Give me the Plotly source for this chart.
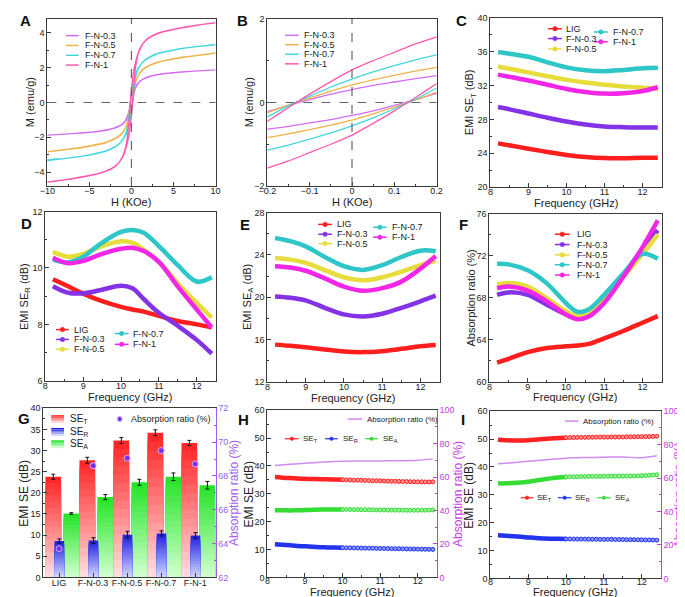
import plotly.graph_objects as go

W, H = 685, 597
FONT = "Arial, 'Liberation Sans', sans-serif"

# ---------------- DATA ----------------
# A / B : hysteresis loops (descending branch)
H_field = [-10, -8, -6, -4, -3, -2, -1.5, -1, -0.7, -0.5, -0.3, -0.2, -0.15, -0.1, -0.05, 0,
           0.05, 0.1, 0.15, 0.2, 0.3, 0.5, 0.7, 1, 1.5, 2, 3, 4, 6, 8, 10]
M_up_FN03 = [-1.87, -1.82, -1.76, -1.67, -1.6, -1.48, -1.38, -1.21, -1.02, -0.82, -0.5, -0.22, -0.07, 0.07, 0.2, 0.31,
             0.41, 0.49, 0.57, 0.64, 0.76, 0.93, 1.06, 1.23, 1.36, 1.46, 1.58, 1.66, 1.75, 1.82, 1.87]
M_up_FN05 = [-2.83, -2.72, -2.6, -2.42, -2.3, -2.1, -1.95, -1.72, -1.45, -1.15, -0.65, -0.25, -0.06, 0.11, 0.27, 0.42,
             0.54, 0.65, 0.75, 0.84, 1.0, 1.25, 1.45, 1.68, 1.93, 2.08, 2.28, 2.4, 2.58, 2.71, 2.83]
M_up_FN07 = [-3.34, -3.22, -3.1, -2.9, -2.78, -2.55, -2.38, -2.1, -1.8, -1.45, -0.85, -0.34, -0.08, 0.15, 0.37, 0.56,
             0.73, 0.88, 1.02, 1.14, 1.35, 1.65, 1.88, 2.12, 2.4, 2.57, 2.8, 2.92, 3.1, 3.22, 3.31]
M_up_FN1 = [-4.58, -4.45, -4.28, -4.08, -3.92, -3.68, -3.45, -3.05, -2.6, -2.05, -1.1, -0.45, -0.12, 0.2, 0.5, 0.78,
            1.0, 1.2, 1.4, 1.57, 1.9, 2.35, 2.7, 3.1, 3.47, 3.7, 3.95, 4.1, 4.3, 4.45, 4.57]

# C : SE_T
freq_C = [8.2, 8.6, 9.0, 9.5, 10.0, 10.5, 11.0, 11.5, 12.0, 12.4]
SET_LIG = [25.16, 24.85, 24.53, 24.15, 23.8, 23.55, 23.42, 23.4, 23.45, 23.45]
SET_FN03 = [29.46, 29.1, 28.7, 28.2, 27.75, 27.4, 27.17, 27.08, 27.05, 27.05]
SET_FN05 = [34.26, 33.9, 33.56, 33.1, 32.67, 32.35, 32.1, 31.9, 31.74, 31.6]
SET_FN07 = [35.97, 35.7, 35.4, 34.75, 34.15, 33.8, 33.7, 33.85, 34.05, 34.1]
SET_FN1 = [33.29, 32.95, 32.6, 32.1, 31.6, 31.25, 31.05, 31.1, 31.35, 31.8]

# D : SE_R
freq_D = [8.2, 8.6, 9.0, 9.5, 10.0, 10.3, 10.6, 11.0, 11.5, 12.0, 12.4]
SER_LIG = [9.6, 9.35, 9.09, 8.82, 8.62, 8.53, 8.45, 8.3, 8.12, 8.0, 7.89]
SER_FN03 = [9.35, 9.12, 9.1, 9.23, 9.37, 9.28, 8.9, 8.41, 7.95, 7.45, 6.96]
SER_FN05 = [10.57, 10.4, 10.5, 10.78, 10.95, 10.9, 10.65, 10.22, 9.46, 8.76, 8.24]
SER_FN07 = [10.3, 10.2, 10.4, 10.9, 11.28, 11.35, 11.25, 10.78, 10.1, 9.52, 9.67]
SER_FN1 = [10.36, 10.17, 10.25, 10.5, 10.68, 10.72, 10.6, 10.22, 9.35, 8.53, 7.89]

# E : SE_A
freq_E = [8.2, 8.6, 9.0, 9.5, 10.0, 10.5, 11.0, 11.5, 12.0, 12.4]
SEA_LIG = [15.51, 15.4, 15.26, 15.05, 14.86, 14.8, 14.89, 15.11, 15.36, 15.48]
SEA_FN03 = [20.07, 19.95, 19.7, 18.99, 18.37, 18.18, 18.43, 18.99, 19.61, 20.14]
SEA_FN05 = [23.7, 23.55, 23.24, 22.56, 21.88, 21.6, 21.88, 22.4, 23.03, 23.43]
SEA_FN07 = [25.6, 25.3, 24.8, 23.8, 22.93, 22.58, 23.03, 23.8, 24.4, 24.35]
SEA_FN1 = [22.93, 22.8, 22.5, 21.78, 21.0, 20.6, 20.85, 21.47, 22.7, 23.9]

# F : absorption ratio
freq_F = [8.2, 8.5, 9.0, 9.5, 10.0, 10.3, 10.6, 11.0, 11.5, 12.0, 12.4]
AR_LIG = [61.81, 62.18, 62.81, 63.21, 63.37, 63.45, 63.6, 64.12, 64.83, 65.61, 66.24]
AR_FN03 = [68.27, 68.5, 68.27, 67.33, 66.4, 66.08, 66.49, 67.8, 70.13, 72.63, 74.41]
AR_FN05 = [69.26, 69.4, 69.05, 67.95, 66.7, 66.3, 66.7, 68.05, 69.98, 72.16, 74.03]
AR_FN07 = [71.23, 71.17, 70.6, 69.36, 67.49, 66.65, 66.9, 68.27, 70.3, 72.16, 71.7]
AR_FN1 = [68.9, 69.05, 68.67, 67.65, 66.4, 65.95, 66.2, 67.49, 69.98, 72.79, 75.35]

# G : bars
G_cats = ["LIG", "F-N-0.3", "F-N-0.5", "F-N-0.7", "F-N-1"]
G_SET = [23.8, 27.7, 32.4, 34.2, 31.8]
G_SET_err = [0.6, 0.7, 0.7, 0.7, 0.6]
G_SER = [8.6, 8.7, 10.1, 10.4, 9.9]
G_SER_err = [0.5, 0.7, 0.8, 0.6, 0.7]
G_SEA = [15.1, 19.0, 22.5, 23.8, 21.8]
G_SEA_err = [0.2, 0.6, 0.7, 0.9, 0.9]
G_AR = [63.7, 68.6, 69.05, 69.5, 68.7]

# H / I : dense part (8.2-10 GHz) and marker part (10-12.4 GHz)
freq_dense = [8.2, 8.4, 8.6, 8.8, 9.0, 9.2, 9.4, 9.6, 9.8, 10.0]
freq_mark = [10.0, 10.1, 10.2, 10.3, 10.4, 10.5, 10.6, 10.7, 10.8, 10.9, 11.0, 11.1, 11.2,
             11.3, 11.4, 11.5, 11.6, 11.7, 11.8, 11.9, 12.0, 12.1, 12.2, 12.3, 12.4]
freq_ar = [8.2, 8.6, 9.0, 9.5, 10.0, 10.5, 11.0, 11.5, 12.0, 12.4]

H_SET_d = [36.0, 35.8, 35.65, 35.5, 35.4, 35.3, 35.25, 35.2, 35.1, 35.05]
H_SER_d = [11.9, 11.7, 11.5, 11.3, 11.15, 11.0, 10.85, 10.75, 10.7, 10.65]
H_SEA_d = [24.1, 24.1, 24.05, 24.1, 24.15, 24.25, 24.35, 24.4, 24.4, 24.4]
H_SET_m = [35.05, 35.0, 34.95, 34.9, 34.9, 34.85, 34.8, 34.75, 34.7, 34.7, 34.65, 34.6, 34.55,
           34.5, 34.5, 34.45, 34.4, 34.4, 34.35, 34.3, 34.3, 34.3, 34.25, 34.25, 34.3]
H_SER_m = [10.65, 10.62, 10.6, 10.58, 10.55, 10.52, 10.5, 10.48, 10.45, 10.42, 10.4, 10.38, 10.35,
           10.32, 10.3, 10.28, 10.25, 10.22, 10.2, 10.18, 10.15, 10.12, 10.1, 10.08, 10.05]
H_SEA_m = [24.4, 24.38, 24.35, 24.33, 24.3, 24.3, 24.28, 24.25, 24.25, 24.22, 24.2, 24.2, 24.18,
           24.15, 24.15, 24.15, 24.12, 24.12, 24.1, 24.1, 24.12, 24.15, 24.15, 24.18, 24.2]
H_AR = [67.0, 67.7, 68.3, 69.0, 69.5, 69.6, 69.7, 69.8, 70.1, 70.9]

I_SET_d = [49.8, 49.6, 49.5, 49.5, 49.6, 49.8, 50.0, 50.2, 50.4, 50.5]
I_SER_d = [15.5, 15.3, 15.1, 14.9, 14.7, 14.5, 14.35, 14.25, 14.2, 14.15]
I_SEA_d = [34.1, 34.1, 34.2, 34.4, 34.7, 35.1, 35.5, 35.9, 36.2, 36.4]
I_SET_m = [50.5, 50.55, 50.55, 50.6, 50.6, 50.6, 50.65, 50.65, 50.7, 50.7, 50.7, 50.7, 50.75,
           50.75, 50.75, 50.75, 50.8, 50.8, 50.8, 50.85, 50.85, 50.9, 50.9, 50.95, 51.0]
I_SER_m = [14.15, 14.15, 14.1, 14.1, 14.1, 14.1, 14.05, 14.05, 14.05, 14.0, 14.0, 14.0, 14.0,
           13.95, 13.95, 13.95, 13.9, 13.9, 13.9, 13.85, 13.85, 13.8, 13.8, 13.75, 13.7]
I_SEA_m = [36.4, 36.45, 36.5, 36.5, 36.55, 36.55, 36.6, 36.6, 36.6, 36.6, 36.65, 36.65, 36.65,
           36.7, 36.7, 36.7, 36.7, 36.75, 36.75, 36.8, 36.85, 36.9, 37.0, 37.1, 37.2]
I_AR = [68.5, 69.2, 70.0, 71.0, 71.9, 72.3, 72.5, 72.6, 72.2, 73.3]

# ---------------- STYLE ----------------
C_AB = {"F-N-0.3": "#D46CF6", "F-N-0.5": "#EDB44A", "F-N-0.7": "#44D6DE", "F-N-1": "#FF58B0"}
C_CF = {"LIG": "#FF1E1E", "F-N-0.3": "#8332E6", "F-N-0.5": "#E6DC3C", "F-N-0.7": "#2EC6C6", "F-N-1": "#F226E6"}
RED, BLUE, GREEN = "#FF2222", "#2233EE", "#33DD33"
VIO_G = "#9C5CEE"
VIO_HI = "#C23CE2"
AR_LINE = "#D08AF0"
AX = "#3a3a3a"

P = {1: (31, 203, 6, 176), 2: (256, 429, 6, 176), 3: (484, 659, 5, 177),
     4: (29, 203, 202, 374), 5: (256, 432, 203, 375), 6: (483, 659, 204, 375),
     7: (27, 203, 402, 574), 8: (256, 429, 404, 574), 9: (484, 658, 405, 575)}


def X(px):
    return px / W


def Y(py):
    return 1 - py / H


def xdom(i):
    return [P[i][0] / W, P[i][1] / W]


def ydom(i):
    return [1 - P[i][3] / H, 1 - P[i][2] / H]


def k(prefix, i):
    return prefix if i == 1 else f"{prefix}{i}"


def ref(prefix, i):
    return prefix if i == 1 else f"{prefix}{i}"


def mkaxis(dom, rng, dtick, minor, anchor, mirror=True, color=AX, tcolor="#222", **kw):
    d = dict(domain=dom, range=rng, dtick=dtick, showline=True, linecolor=color, linewidth=1, mirror=mirror,
             ticks="inside", ticklen=4, tickwidth=1, tickcolor=color, showgrid=False, zeroline=False,
             tickfont=dict(size=9, color=tcolor), anchor=anchor)
    if minor:
        d["minor"] = dict(ticks="inside", ticklen=2, dtick=minor, tickcolor=color, tickwidth=1)
    d.update(kw)
    return d


fig = go.Figure()
layout = dict(width=W, height=H, margin=dict(l=0, r=0, t=0, b=0), paper_bgcolor="white",
              plot_bgcolor="white", showlegend=False, barmode="overlay",
              font=dict(family=FONT, color="#222", size=9))
shapes, annots = [], []

# axes
xcfg = {1: ([-10, 10], 5, 2.5), 2: ([-0.2, 0.2], 0.1, 0.05),
        3: ([8, 12.5], 1, 0.5), 4: ([8, 12.5], 1, 0.5), 5: ([8, 12.5], 1, 0.5), 6: ([8, 12.5], 1, 0.5),
        8: ([8, 12.5], 1, 0.5), 9: ([8, 12.5], 1, 0.5)}
ycfg = {1: ([-4.8, 4.8], 2, 1), 2: ([-2, 2], 2, 1), 3: ([20, 40], 4, 2), 4: ([6, 12], 2, 1),
        5: ([12, 28], 4, 2), 6: ([60, 76], 4, 2), 7: ([0, 40], 5, 2.5), 8: ([0, 60], 10, 5), 9: ([0, 60], 10, 5)}
for i in range(1, 10):
    if i == 7:
        layout["xaxis7"] = mkaxis(xdom(7), [-0.46, 4.6], None, None, "y7", ticklabelstandoff=-3,
                                  tickmode="array", tickvals=list(range(5)), ticktext=G_cats)
    else:
        r, dt, mn = xcfg[i]
        layout[k("xaxis", i)] = mkaxis(xdom(i), r, dt, mn, ref("y", i),
                                       ticklabelstandoff=(-5 if i in (8, 9) else -4))
    r, dt, mn = ycfg[i]
    layout[k("yaxis", i)] = mkaxis(ydom(i), r, dt, mn, ref("x", i), mirror=(i not in (7, 8, 9)))

layout["yaxis10"] = mkaxis(ydom(7), [62, 72], 2, 1, "x7", mirror=False, color=VIO_G, tcolor=VIO_G,
                           overlaying="y7", side="right")
layout["yaxis11"] = mkaxis(ydom(8), [0, 100], 20, 10, "x8", mirror=False, color=VIO_HI, tcolor=VIO_HI,
                           overlaying="y8", side="right")
layout["yaxis12"] = mkaxis(ydom(9), [0, 100], 20, 10, "x9", mirror=False, color=VIO_HI, tcolor=VIO_HI,
                           overlaying="y9", side="right")

# ---- A & B ----
loops = {"F-N-0.3": M_up_FN03, "F-N-0.5": M_up_FN05, "F-N-0.7": M_up_FN07, "F-N-1": M_up_FN1}
for i in (1, 2):
    for name, mu in loops.items():
        xs = list(reversed(H_field)) + list(H_field)
        ys = list(reversed(mu)) + [-m for m in reversed(mu)]
        fig.add_trace(go.Scatter(x=xs, y=ys, mode="lines", name=name,
                                 line=dict(color=C_AB[name], width=1.3, shape="spline", smoothing=0.6),
                                 xaxis=ref("x", i), yaxis=ref("y", i)))
    shapes.append(dict(type="line", xref=ref("x", i), yref=ref("y", i) + " domain", x0=0, x1=0, y0=0, y1=1,
                       line=dict(color="#666", width=1.2, dash="dash")))
    shapes.append(dict(type="line", xref=ref("x", i) + " domain", yref=ref("y", i), x0=0, x1=1, y0=0, y1=0,
                       line=dict(color="#666", width=1.2, dash="dash")))

# ---- C-F ----
names5 = ["LIG", "F-N-0.3", "F-N-0.5", "F-N-0.7", "F-N-1"]
series = {3: (freq_C, [SET_LIG, SET_FN03, SET_FN05, SET_FN07, SET_FN1]),
          4: (freq_D, [SER_LIG, SER_FN03, SER_FN05, SER_FN07, SER_FN1]),
          5: (freq_E, [SEA_LIG, SEA_FN03, SEA_FN05, SEA_FN07, SEA_FN1]),
          6: (freq_F, [AR_LIG, AR_FN03, AR_FN05, AR_FN07, AR_FN1])}
for i, (fx, ys) in series.items():
    for name, yv in zip(names5, ys):
        fig.add_trace(go.Scatter(x=fx, y=yv, mode="lines", name=name,
                                 line=dict(color=C_CF[name], width=4.5, shape="spline", smoothing=1.0),
                                 xaxis=ref("x", i), yaxis=ref("y", i)))


# ---- G ----
def mix(c1, c2, t):
    return "rgb(%d,%d,%d)" % tuple(round(a + (b - a) * t) for a, b in zip(c1, c2))


xi = list(range(len(G_cats)))
bar_specs = [  # values, err, top colour, bottom colour, offset, width
    (G_SET, G_SET_err, (255, 40, 40), (255, 218, 218), -0.40, 0.46),
    (G_SEA, G_SEA_err, (40, 228, 40), (205, 255, 205), 0.13, 0.46),
    (G_SER, G_SER_err, (35, 35, 225), (205, 212, 255), -0.13, 0.28),
]
N = 16
for vals, err, top, bot, off, wid in bar_specs:
    for j in range(N):
        f = (N - j) / N
        fig.add_trace(go.Bar(x=xi, y=[v * f for v in vals], offset=off, width=wid,
                             marker=dict(color=mix(top, bot, j / (N - 1)), line=dict(width=0)),
                             xaxis="x7", yaxis="y7", hoverinfo="skip"))
for vals, err, top, bot, off, wid in bar_specs:
    fig.add_trace(go.Bar(x=xi, y=vals, offset=off, width=wid,
                         marker=dict(color="rgba(0,0,0,0)", line=dict(width=0)),
                         error_y=dict(type="data", array=err, color="#111", thickness=1, width=2),
                         xaxis="x7", yaxis="y7"))
fig.add_trace(go.Scatter(x=xi, y=G_AR, mode="markers", xaxis="x7", yaxis="y10",
                         marker=dict(color="#7A30EE", size=6, line=dict(color="#C9A8FF", width=1))))


# ---- H & I ----
def hi_panel(i, y2, sd, sm):
    for yd, ym, col, light in sd:
        fig.add_trace(go.Scatter(x=freq_dense, y=yd, mode="lines", line=dict(color=col, width=4.5, shape="spline"),
                                 xaxis=ref("x", i), yaxis=ref("y", i)))
        fig.add_trace(go.Scatter(x=freq_mark, y=ym, mode="markers",
                                 marker=dict(color=light, size=4, line=dict(color=col, width=1)),
                                 xaxis=ref("x", i), yaxis=ref("y", i)))
    fig.add_trace(go.Scatter(x=freq_ar, y=sm, mode="lines", line=dict(color=AR_LINE, width=1.5, shape="spline"),
                             xaxis=ref("x", i), yaxis=y2))


hi_panel(8, "y11", [(H_SET_d, H_SET_m, RED, "#FF9090"), (H_SER_d, H_SER_m, BLUE, "#8C96FF"),
                    (H_SEA_d, H_SEA_m, GREEN, "#A0F0A0")], H_AR)
hi_panel(9, "y12", [(I_SET_d, I_SET_m, RED, "#FF9090"), (I_SER_d, I_SER_m, BLUE, "#8C96FF"),
                    (I_SEA_d, I_SEA_m, GREEN, "#A0F0A0")], I_AR)


# ---------------- text helpers ----------------
def txt(x, y, text, size, color="#222", angle=0, xanchor="center"):
    annots.append(dict(x=X(x), y=Y(y), xref="paper", yref="paper", text=text, showarrow=False,
                       xanchor=xanchor, yanchor="middle", textangle=angle,
                       font=dict(size=size, color=color, family=FONT)))


def leg(x0, x1, y, color, text, tx, size=9, lw=1.5, marker=0.0):
    shapes.append(dict(type="line", xref="paper", yref="paper", x0=X(x0), x1=X(x1), y0=Y(y), y1=Y(y),
                       line=dict(color=color, width=lw)))
    if marker:
        xc = (x0 + x1) / 2
        shapes.append(dict(type="circle", xref="paper", yref="paper", x0=X(xc - marker), x1=X(xc + marker),
                           y0=Y(y + marker), y1=Y(y - marker), fillcolor=color, line=dict(color=color, width=0.5)))
    txt(tx, y, text, size, xanchor="left")


# axis titles
def pc(i):
    l, r, t, b = P[i]
    return (l + r) / 2, (t + b) / 2


xt = {1: ("H (KOe)", 192.5), 2: ("H (KOe)", 192.5), 3: ("Frequency (GHz)", 193.5), 4: ("Frequency (GHz)", 390.5),
      5: ("Frequency (GHz)", 391.5), 6: ("Frequency (GHz)", 390.5), 8: ("Frequency (GHz)", 589),
      9: ("Frequency (GHz)", 589)}
for i, (t, yy) in xt.items():
    txt(pc(i)[0], yy, t, 11)
yt = {1: ("M (emu/g)", 14, 11), 2: ("M (emu/g)", 238, 11), 3: ("EMI SE<sub>T</sub> (dB)", 464, 11),
      4: ("EMI SE<sub>R</sub> (dB)", 8, 11), 5: ("EMI SE<sub>A</sub> (dB)", 236, 11),
      6: ("Absorption ratio (%)", 464, 11), 7: ("EMI SE (dB)", 7, 12), 8: ("EMI SE (dB)", 237, 12),
      9: ("EMI SE (dB)", 462, 12)}
for i, (t, xx, sz) in yt.items():
    txt(xx, pc(i)[1], t, sz, angle=-90)
txt(222, pc(7)[1], "Absorption ratio (%)", 12, color=VIO_G, angle=-90)
txt(451, pc(8)[1], "Absorption ratio (%)", 12, color=VIO_HI, angle=-90)
txt(677, pc(9)[1], "Absorption ratio (%)", 12, color=VIO_HI, angle=-90)

# legends
for i, (lx0, lx1, tx, rows) in {1: (50, 63, 67, [23, 33, 43, 53]), 2: (274, 288, 291, [22.7, 32.3, 42, 51.7])}.items():
    for name, yy in zip(["F-N-0.3", "F-N-0.5", "F-N-0.7", "F-N-1"], rows):
        leg(lx0, lx1, yy, C_AB[name], name, tx)

leg_cf = {
    3: [(543, 557, 559, [16, 26, 36.5]), (590, 604, 607, [19.3, 29.3])],
    4: [(40, 53, 56, [322, 332, 342]), (100, 114, 117, [326, 337])],
    5: [(308, 322, 325, [215, 225, 234.5]), (364, 378, 381, [218, 228])],
}
for i, cols in leg_cf.items():
    for name, yy in zip(names5[:3], cols[0][3]):
        leg(cols[0][0], cols[0][1], yy, C_CF[name], name, cols[0][2], marker=2.3)
    for name, yy in zip(names5[3:], cols[1][3]):
        leg(cols[1][0], cols[1][1], yy, C_CF[name], name, cols[1][2], marker=2.3)
for name, yy in zip(names5, [225, 235.5, 246, 256, 266.5]):
    leg(550, 565, yy, C_CF[name], name, 570, marker=2.3)

# G legend: gradient squares
for (lab, top, bot), yy in zip([("SE<sub>T</sub>", (255, 40, 40), (255, 218, 218)),
                                ("SE<sub>R</sub>", (35, 35, 225), (205, 212, 255)),
                                ("SE<sub>A</sub>", (40, 228, 40), (205, 255, 205))], [413, 426, 438.5]):
    nseg = 5
    for s in range(nseg):
        shapes.append(dict(type="rect", xref="paper", yref="paper", x0=X(35), x1=X(48),
                           y0=Y(yy - 4 + 8 * (s + 1) / nseg), y1=Y(yy - 4 + 8 * s / nseg),
                           fillcolor=mix(top, bot, s / (nseg - 1)), line=dict(width=0)))
    txt(52, yy, lab, 10, xanchor="left")
shapes.append(dict(type="circle", xref="paper", yref="paper", x0=X(102.5), x1=X(107.5), y0=Y(415.5), y1=Y(410.5),
                   fillcolor="#7A30EE", line=dict(color="#C9A8FF", width=0.8)))
txt(114, 413, "Absorption ratio (%)", 9, xanchor="left")

# H / I legends
for (ax0, ax1, atx, ay), (row_y, items) in [
    ((338, 353, 356, 413), (433, [(274, 288, 290), (315, 328, 331), (356, 369, 372)])),
    ((560, 574, 577, 415), (493, [(515, 528, 530), (553, 567, 568), (593, 607, 609)])),
]:
    leg(ax0, ax1, ay, AR_LINE, "Absorption ratio (%)", atx, size=8, lw=1.5)
    for (x0, x1, tx), col, lab in zip(items, [RED, BLUE, GREEN],
                                      ["SE<sub>T</sub>", "SE<sub>R</sub>", "SE<sub>A</sub>"]):
        leg(x0, x1, row_y, col, lab, tx, size=8, lw=1.2, marker=1.8)

# panel letters
for letter, (px, py) in {"A": (8.5, 8), "B": (231, 7.5), "C": (454, 7.5), "D": (10, 214), "E": (233, 215),
                         "F": (457, 215), "G": (7.5, 412), "H": (232, 413), "I": (456, 413)}.items():
    txt(px, py, f"<b>{letter}</b>", 15, color="#111")

layout["shapes"] = shapes
layout["annotations"] = annots
fig.update_layout(**layout)
fig.write_html("out.html")
